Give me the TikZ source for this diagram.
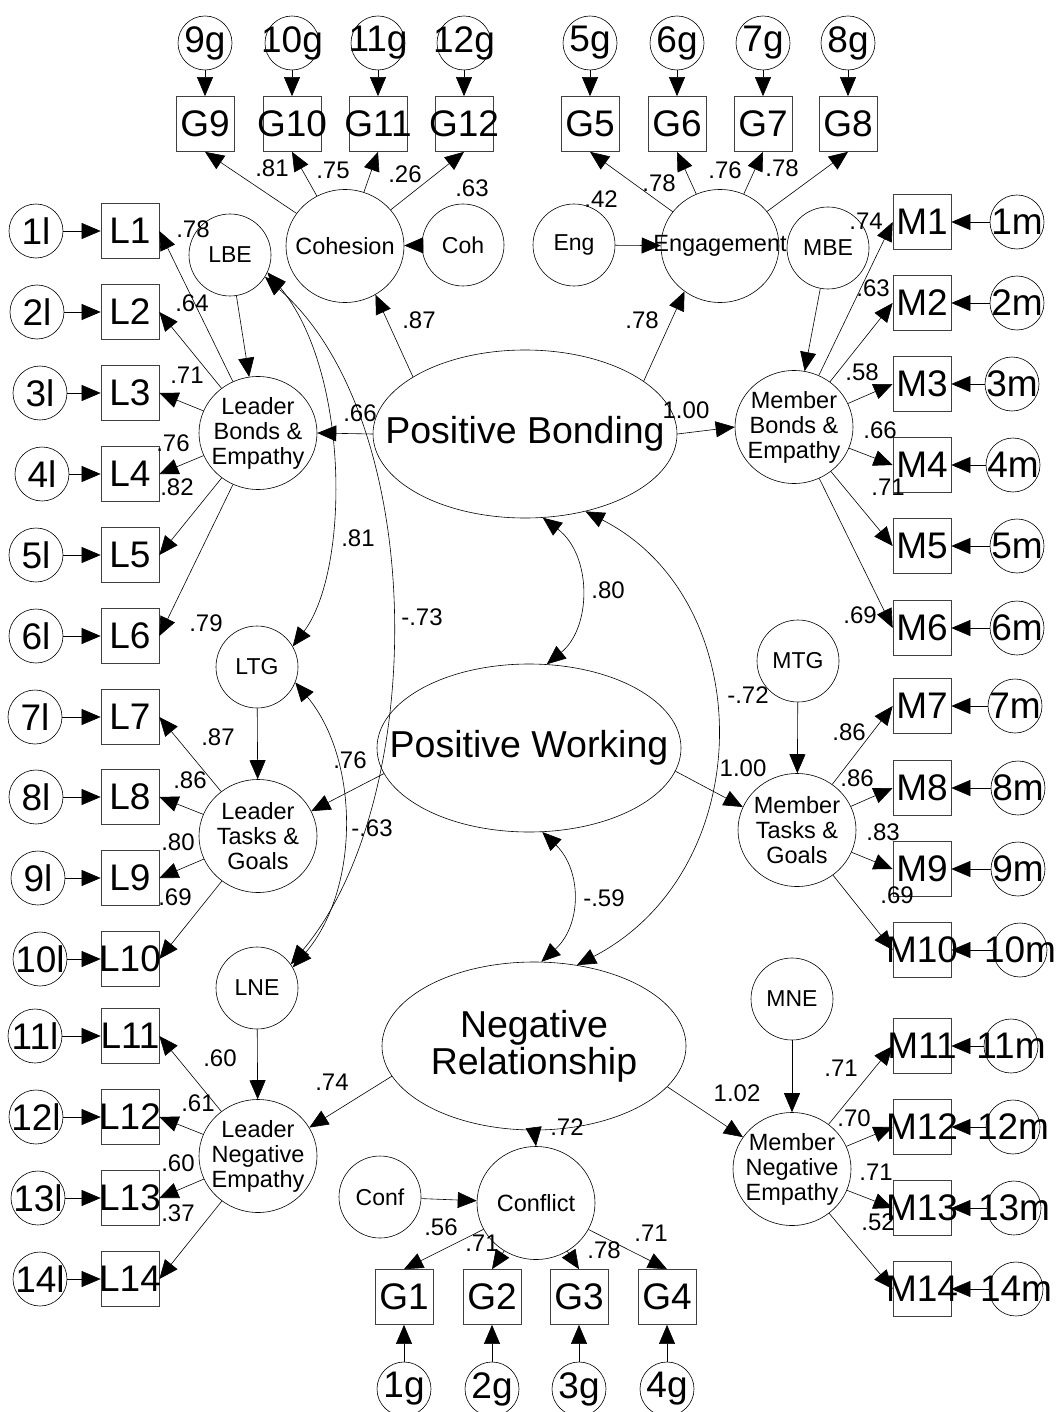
\documentclass[tikz,border=0pt]{standalone}
\usepackage{fontspec}
\setmainfont{Liberation Sans}
\usetikzlibrary{arrows.meta,shapes.geometric}

\begin{document}
\begin{tikzpicture}[x=1pt,y=-1pt,
  every node/.style={inner sep=0pt},
  obsbox/.style={draw=black!75, line width=0.7pt, minimum width=58pt, minimum height=55pt,
    inner sep=-20pt, font=\fontsize{37}{38}\selectfont},
  errc/.style={circle, draw, line width=0.6pt, minimum size=54pt, inner sep=-20pt,
    font=\fontsize{37}{38}\selectfont},
  distc/.style={circle, draw, line width=0.6pt, minimum size=82pt, inner sep=-20pt,
    font=\fontsize{23}{24}\selectfont},
  fac/.style={ellipse, draw, line width=0.6pt, minimum width=118pt, minimum height=113pt,
    inner sep=-40pt, align=center, font=\fontsize{23.5}{25}\selectfont},
  higher/.style={ellipse, draw, line width=0.6pt, minimum width=304pt, minimum height=168pt,
    inner sep=-60pt, align=center, font=\fontsize{37.5}{37}\selectfont},
  coef/.style={font=\fontsize{24}{25}\selectfont},
  arr/.style={line width=0.6pt, -{Triangle[length=19pt,width=16pt]}},
  covarr/.style={line width=0.6pt, {Triangle[length=19pt,width=16pt]}-{Triangle[length=19pt,width=16pt]}},
]
\fill[white] (0,0) rectangle (1064,1412);
\useasboundingbox (0,0) rectangle (1064,1412);

% second-order factors
\node[higher] (pb) at (525,434) {Positive Bonding};
\node[higher] (pw) at (529,748) {Positive Working};
\node[higher] (nr) at (534,1046) {Negative\\Relationship};

% first-order factors
\node[fac] (cohf) at (345,246) {Cohesion};
\node[fac] (engf) at (720,246) {Engagement};
\node[fac] (lbf) at (258,433) {Leader\\Bonds \&\\Empathy};
\node[fac] (mbf) at (794,427) {Member\\Bonds \&\\Empathy};
\node[fac] (ltf) at (258,836) {Leader\\Tasks \&\\Goals};
\node[fac] (mtf) at (797,830) {Member\\Tasks \&\\Goals};
\node[fac] (lnf) at (258,1156) {Leader\\Negative\\Empathy};
\node[fac] (mnf) at (792,1169) {Member\\Negative\\Empathy};
\node[fac] (conf) at (536,1203) {Conflict};

% disturbances
\node[distc] (cohd) at (463,245) {Coh};
\node[distc] (engd) at (574,245) {Eng};
\node[distc] (lbe) at (230,255) {LBE};
\node[distc] (mbe) at (828,248) {MBE};
\node[distc] (ltg) at (257,667) {LTG};
\node[distc] (mtg) at (798,661) {MTG};
\node[distc] (lne) at (257,988) {LNE};
\node[distc] (mne) at (792,999) {MNE};
\node[distc] (confd) at (380,1197) {Conf};

% group items (top rows)
\foreach \n/\x in {9/205,10/292,11/378,12/464,5/590,6/677,7/763,8/848}{
  \node[obsbox] (G\n) at (\x,124) {G\n};
  \node[errc] (g\n) at (\x,43) {\n{}g};
  \draw[arr] (g\n) -- (G\n);
}
% group items (bottom row)
\foreach \n/\x in {1/404,2/492,3/579,4/667}{
  \node[obsbox] (G\n) at (\x,1297) {G\n};
  \node[errc] (g\n) at (\x,1389) {\n{}g};
  \draw[arr] (g\n) -- (G\n);
}

% leader items
\foreach \i/\y/\ex in {1/231/36,2/312/37,3/393/40,4/474/42,5/555/36,6/636/36,7/717/35,
  8/797/36,9/878/38,10/959/40,11/1036/35,12/1117/36,13/1198/38,14/1279/40}{
  \node[obsbox] (L\i) at (130,\y) {L\i};
  \node[errc] (l\i) at (\ex,\y) {\i{}l};
  \draw[arr] (l\i) -- (L\i);
}

% member items
\foreach \i/\y/\ex in {1/222/1017,2/303/1017,3/384/1012,4/465/1013,5/546/1017,6/628/1017,
  7/706/1015,8/788/1018,9/869/1018,10/950/1020,11/1046/1011,12/1127/1013,13/1208/1014,14/1289/1016}{
  \node[obsbox] (M\i) at (922,\y) {M\i};
  \node[errc] (m\i) at (\ex,\y) {\i{}m};
  \draw[arr] (m\i) -- (M\i);
}

% loadings of first-order factors
\foreach \n in {9,10,11,12} \draw[arr] (cohf) -- (G\n.south);
\foreach \n in {5,6,7,8} \draw[arr] (engf) -- (G\n.south);
\foreach \n in {1,2,3,4} \draw[arr] (conf) -- (G\n.north);
\foreach \i in {1,...,6} \draw[arr] (lbf) -- (L\i.east);
\foreach \i in {7,...,10} \draw[arr] (ltf) -- (L\i.east);
\foreach \i in {11,...,14} \draw[arr] (lnf) -- (L\i.east);
\foreach \i in {1,...,6} \draw[arr] (mbf) -- (M\i.west);
\foreach \i in {7,...,10} \draw[arr] (mtf) -- (M\i.west);
\foreach \i in {11,...,14} \draw[arr] (mnf) -- (M\i.west);

% disturbances into factors
\draw[arr] (cohd) -- (cohf);
\draw[arr] (engd) -- (engf);
\draw[arr] (lbe) -- (lbf);
\draw[arr] (mbe) -- (mbf);
\draw[arr] (ltg) -- (ltf);
\draw[arr] (mtg) -- (mtf);
\draw[arr] (lne) -- (lnf);
\draw[arr] (mne) -- (mnf);
\draw[arr] (confd) -- (conf);

% second-order loadings
\draw[arr] (pb.153) -- (cohf.-58);
\draw[arr] (pb.24) -- (engf.-128);
\draw[arr] (pb.180) -- (lbf.0);
\draw[arr] (pb.0) -- (mbf.180);
\draw[arr] (pw.190) -- (ltf.25);
\draw[arr] (pw.-9) -- (mtf.157);
\draw[arr] (nr.192) -- (lnf.29);
\draw[arr] (nr.-17) -- (mnf.147);
\draw[arr] (nr.south) -- (conf.north);

% covariances
\draw[covarr] (pb.-78) .. controls (592,555) and (592,627) .. (pw.78);
\draw[covarr] (pw.-81) .. controls (582,870) and (582,925) .. (nr.85);
\draw[covarr] (pb.-52) .. controls (760,600) and (760,870) .. (nr.62);
\draw[covarr] (lbe.-25) .. controls (350,370) and (350,570) .. (ltg.30);
\draw[covarr] (lbe.-32) .. controls (429,420) and (429,800) .. (lne.35);
\draw[covarr] (ltg.-22) .. controls (360,760) and (360,890) .. (lne.30);

% coefficients
\foreach \x/\y/\t [count=\k] in {
  272/168/.81, 333/170/.75, 405/174/.26, 472/188/.63,
  601/199/.42, 659/183/.78, 725/170/.76, 782/168/.78,
  866/221/.74, 873/288/.63, 862/372/.58, 880/430/.66, 888/487/.71, 860/615/.69,
  193/229/.78, 192/303/.64, 187/375/.71, 173/443/.76, 177/487/.82, 206/623/.79,
  360/413/.66, 419/320/.87, 642/320/.78, 686/410/1.00,
  358/538/.81, 422/617/-.73, 608/590/.80, 748/695/-.72,
  218/737/.87, 190/780/.86, 178/842/.80, 175/897/.69,
  350/760/.76, 372/828/-.63,
  849/732/.86, 857/778/.86, 883/832/.83, 897/895/.69, 743/768/1.00, 604/898/-.59,
  220/1058/.60, 198/1103/.61, 178/1163/.60, 178/1213/.37, 332/1082/.74,
  567/1127/.72, 737/1093/1.02,
  841/1068/.71, 854/1118/.70, 876/1172/.71, 878/1222/.52,
  441/1227/.56, 482/1243/.71, 604/1250/.78, 651/1233/.71}
  \node[coef] (coef\k) at (\x,\y) {\t};

\end{tikzpicture}
\end{document}
